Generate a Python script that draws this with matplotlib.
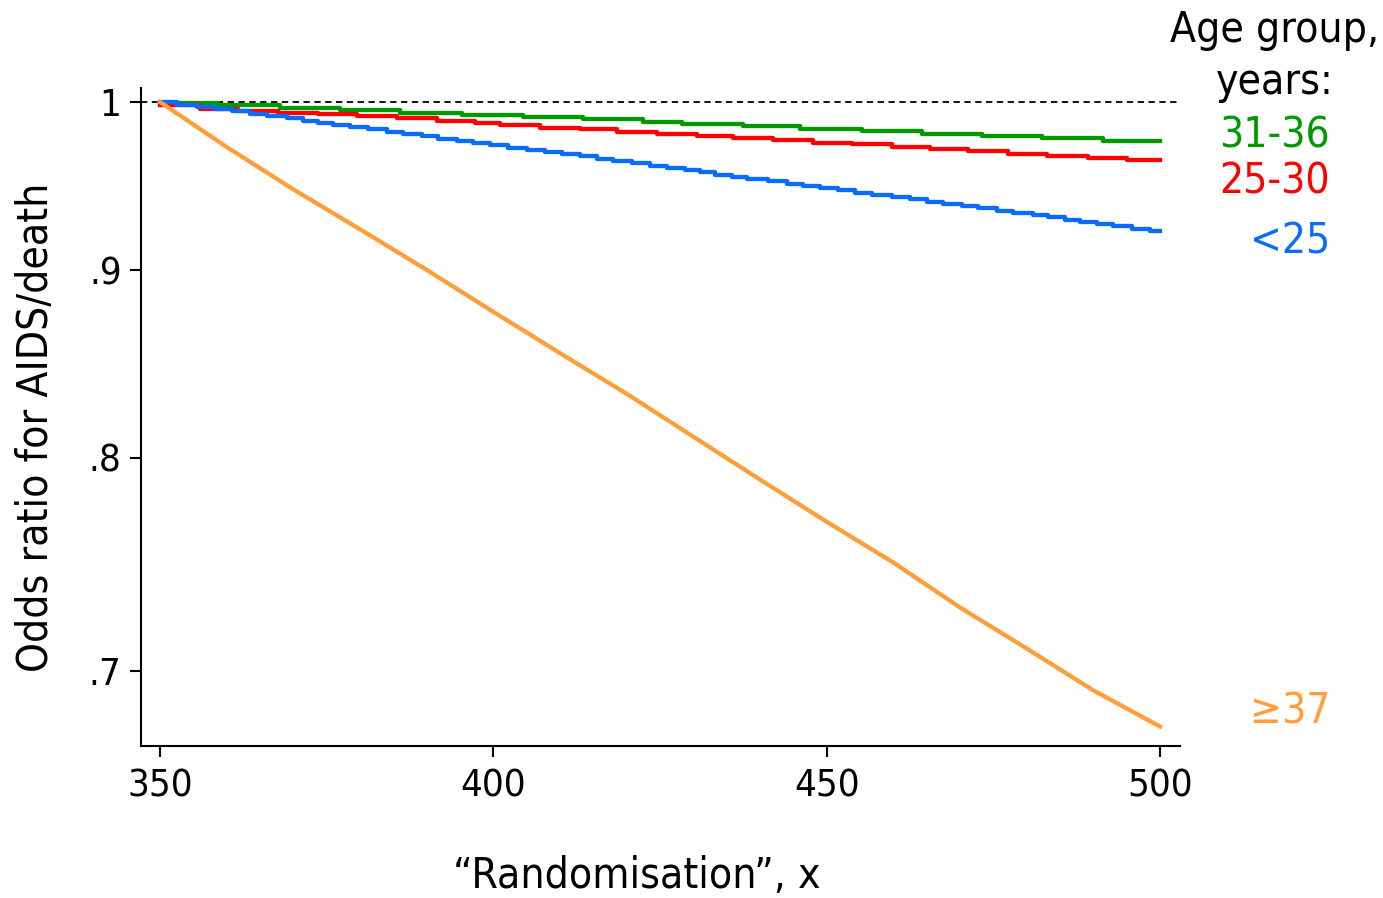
import matplotlib
matplotlib.use("Agg")
import matplotlib.pyplot as plt
from matplotlib.ticker import FixedLocator, FixedFormatter, NullLocator

plt.rcParams["font.family"] = "DejaVu Sans"
plt.rcParams["font.stretch"] = "condensed"

# x where each step-down happens, and the odds ratio on each level
green_breaks = [358.7, 368.0, 377.0, 386.0, 395.3, 404.5, 413.5, 422.5, 428.3, 437.5,
                446.0, 455.3, 464.3, 473.3, 482.3, 491.5]
green_levels = [0.9991, 0.9978, 0.9962, 0.9948, 0.9934, 0.9919, 0.9905, 0.9891, 0.9875,
                0.9860, 0.9848, 0.9832, 0.9820, 0.9804, 0.9789, 0.9776, 0.9761]

red_breaks = [356.0, 361.7, 367.7, 373.7, 379.6, 385.6, 391.6, 397.3, 401.0, 407.0,
              413.0, 418.6, 424.6, 430.6, 436.0, 442.0, 448.0, 453.8, 459.8, 465.5,
              471.2, 477.2, 483.1, 489.2, 495.1]
red_levels = [0.9981, 0.9959, 0.9946, 0.9933, 0.9922, 0.9911, 0.9898, 0.9883, 0.9867,
              0.9854, 0.9840, 0.9829, 0.9816, 0.9801, 0.9789, 0.9775, 0.9763, 0.9749,
              0.9737, 0.9723, 0.9708, 0.9696, 0.9679, 0.9667, 0.9655, 0.9643]

blue_breaks = [352.6, 355.6, 358.3, 360.8, 363.5, 366.1, 369.1, 371.5, 373.7, 376.0,
               378.5, 381.2, 384.1, 386.5, 389.3, 391.7, 394.6, 397.0, 399.5, 402.2,
               405.1, 407.8, 410.3, 413.0, 415.6, 418.0, 420.8, 423.5, 426.1, 428.8,
               431.0, 433.3, 435.8, 438.1, 441.2, 444.1, 446.5, 449.0, 451.7, 454.3,
               456.8, 459.8, 462.5, 465.1, 467.5, 470.3, 472.7, 475.6, 478.0, 481.0,
               483.2, 485.8, 488.0, 490.6, 493.0, 495.8, 498.5]
blue_levels = [0.9997, 0.9983, 0.9969, 0.9955, 0.9941, 0.9926, 0.9912, 0.9898, 0.9884,
               0.9871, 0.9857, 0.9843, 0.9829, 0.9815, 0.9801, 0.9787, 0.9773, 0.9760,
               0.9746, 0.9732, 0.9718, 0.9705, 0.9691, 0.9677, 0.9664, 0.9650, 0.9636,
               0.9623, 0.9609, 0.9596, 0.9582, 0.9568, 0.9555, 0.9541, 0.9528, 0.9514,
               0.9501, 0.9488, 0.9474, 0.9461, 0.9448, 0.9434, 0.9421, 0.9408, 0.9394,
               0.9381, 0.9368, 0.9355, 0.9341, 0.9328, 0.9315, 0.9302, 0.9289, 0.9276,
               0.9262, 0.9249, 0.9236, 0.9223]

orange_x = [350, 360, 370, 380, 390, 400, 410, 420, 430, 440, 450, 460, 470, 480, 490, 500]
orange_y = [1.0, 0.9722, 0.9467, 0.9233, 0.9001, 0.8767, 0.8543, 0.8328, 0.8107, 0.7892,
            0.7686, 0.7492, 0.7284, 0.7099, 0.6915, 0.6760]

x_ticks = [350, 400, 450, 500]
y_ticks = [0.7, 0.8, 0.9, 1.0]
y_tick_labels = [".7", ".8", ".9", "1"]

GREEN = "#009900"
RED = "#ff0000"
BLUE = "#0a6cff"
ORANGE = "#ff9e3a"

W, H = 1383, 898
fig = plt.figure(figsize=(W / 100, H / 100), dpi=100)
ax = fig.add_axes([141 / W, 1 - 746 / H, 1039 / W, 658 / H])
ax.set_yscale("log")


def step_xy(breaks, levels):
    xs = [350] + breaks + [500]
    ys = levels + [levels[-1]]
    return xs, ys


ax.axhline(1.0, color="black", lw=1.3, dashes=(3.5, 2.5), zorder=1)

for breaks, levels, col in [(green_breaks, green_levels, GREEN),
                            (red_breaks, red_levels, RED),
                            (blue_breaks, blue_levels, BLUE)]:
    xs, ys = step_xy(breaks, levels)
    ax.plot(xs, ys, drawstyle="steps-post", color=col, lw=3.1, zorder=3)

ax.plot(orange_x, orange_y, color=ORANGE, lw=3.1, zorder=3)

ax.set_xlim(347.15, 503)
ax.set_ylim(0.6678, 1.0088)

ax.xaxis.set_major_locator(FixedLocator(x_ticks))
ax.yaxis.set_major_locator(FixedLocator(y_ticks))
ax.yaxis.set_major_formatter(FixedFormatter(y_tick_labels))
ax.yaxis.set_minor_locator(NullLocator())
ax.xaxis.set_minor_locator(NullLocator())

for side in ["top", "right"]:
    ax.spines[side].set_visible(False)
for side in ["left", "bottom"]:
    ax.spines[side].set_linewidth(1.5)

ax.tick_params(axis="both", length=8, width=1.5, labelsize=27.5, color="black")
ax.tick_params(axis="x", pad=8)
ax.tick_params(axis="y", pad=6)

ax.set_xlabel("\u201cRandomisation\u201d, x", fontsize=30.5)
ax.xaxis.set_label_coords(0.477, -0.166)
ax.set_ylabel("Odds ratio for AIDS/death", fontsize=30.5)
ax.yaxis.set_label_coords(-0.081, 0.485)

# group labels on the right
FS = 30.5
fig.text(1275 / W, 1 - 30 / H, "Age group,", ha="center", va="center", fontsize=FS)
fig.text(1275 / W, 1 - 82 / H, "years:", ha="center", va="center", fontsize=FS)
fig.text(1330 / W, 1 - 135 / H, "31-36", ha="right", va="center", fontsize=FS, color=GREEN)
fig.text(1330 / W, 1 - 181 / H, "25-30", ha="right", va="center", fontsize=FS, color=RED)
fig.text(1330 / W, 1 - 241 / H, "<25", ha="right", va="center", fontsize=FS, color=BLUE)
fig.text(1330 / W, 1 - 711 / H, "\u226537", ha="right", va="center", fontsize=FS, color=ORANGE)

fig.savefig("out.png", dpi=100, facecolor="white")
